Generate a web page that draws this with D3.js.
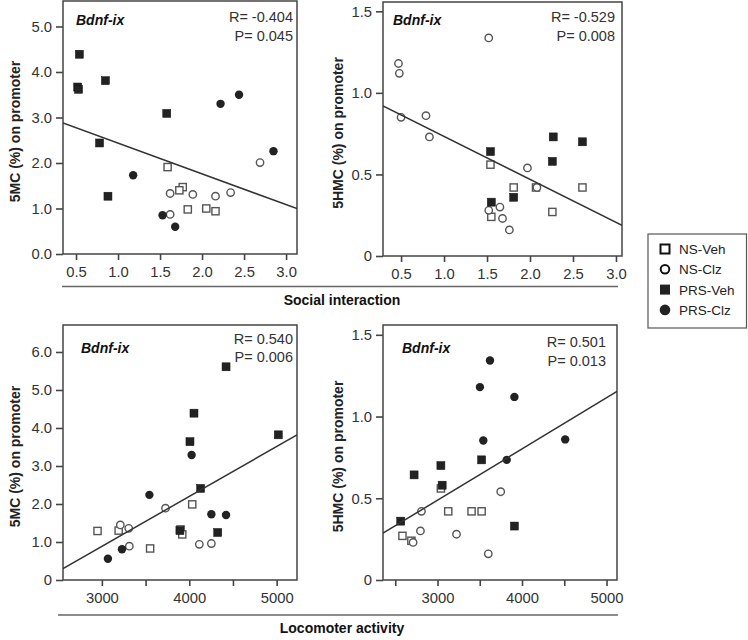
<!DOCTYPE html>
<html><head><meta charset="utf-8">
<script src="https://cdn.jsdelivr.net/npm/d3@7"></script>
<style>
body{margin:0;background:#fff;}
svg{display:block;font-family:"Liberation Sans",Arial,sans-serif;}
</style></head>
<body><svg id="c" width="748" height="640"></svg>
<script>
// ---------- data ----------
const seriesNames = ["NS-Veh","NS-Clz","PRS-Veh","PRS-Clz"];
const geneLabel = "Bdnf-ix";
const yLabels = ["5MC (%) on promoter","5HMC (%) on promoter"];
const xGroupLabels = ["Social interaction","Locomoter activity"];
const statR = ["R= -0.404","R= -0.529","R= 0.540","R= 0.501"];
const statP = ["P= 0.045","P= 0.008","P= 0.006","P= 0.013"];

const socialTicks = [0.5,1.0,1.5,2.0,2.5,3.0];
const ticks5mcSocial = [0,1,2,3,4,5];
const ticks5hmc = [0,0.5,1.0,1.5];
const ticks5mcLoco = [0,1,2,3,4,5,6];
const locoTicks3 = [3000,3500,4000,4500,5000];
const locoTicks4 = [2500,3000,3500,4000,4500,5000];

// Panel 1: social interaction vs 5MC
const p1NSVeh  = [[1.59,1.91],[1.77,1.47],[1.73,1.40],[1.83,0.98],[2.05,1.00],[2.16,0.94]];
const p1NSClz  = [[1.62,1.33],[1.89,1.31],[2.16,1.27],[2.34,1.35],[2.69,2.01],[1.62,0.87]];
const p1PRSVeh = [[0.54,4.39],[0.52,3.67],[0.53,3.62],[0.85,3.81],[1.58,3.09],[0.78,2.44],[0.88,1.27]];
const p1PRSClz = [[2.22,3.30],[2.44,3.50],[2.85,2.26],[1.18,1.73],[1.53,0.85],[1.68,0.60]];
const p1Fit = [3.111,-0.675];

// Panel 2: social interaction vs 5HMC
const p2NSVeh  = [[1.54,0.56],[1.55,0.24],[1.81,0.42],[2.07,0.42],[2.26,0.27],[2.61,0.42]];
const p2NSClz  = [[1.52,1.337],[0.47,1.18],[0.48,1.12],[0.50,0.85],[0.79,0.86],[0.83,0.73],[1.97,0.54],[1.52,0.28],[1.65,0.30],[1.68,0.23],[1.76,0.16],[2.08,0.42]];
const p2PRSVeh = [[1.54,0.64],[1.55,0.33],[1.81,0.36],[2.27,0.73],[2.26,0.58],[2.61,0.70]];
const p2PRSClz = [];
const p2Fit = [0.996,-0.2634];

// Panel 3: locomotor activity vs 5MC
const p3NSVeh  = [[2950,1.29],[3192,1.30],[3552,0.83],[4034,1.99],[3900,1.33],[3920,1.20]];
const p3NSClz  = [[3211,1.45],[3307,1.36],[3314,0.89],[3728,1.89],[4115,0.94],[4253,0.96]];
const p3PRSVeh = [[4421,5.61],[4054,4.39],[4008,3.64],[4130,2.41],[5019,3.82],[4326,1.25],[3893,1.30]];
const p3PRSClz = [[4027,3.29],[3544,2.24],[4253,1.73],[4421,1.71],[3230,0.81],[3069,0.56]];
const p3Fit = [-3.053,0.001313];

// Panel 4: locomotor activity vs 5HMC
const p4NSVeh  = [[3040,0.56],[3127,0.42],[3403,0.42],[3522,0.42],[2585,0.27],[2691,0.24]];
const p4NSClz  = [[2810,0.42],[2798,0.30],[2711,0.23],[3225,0.28],[3748,0.54],[3601,0.16]];
const p4PRSVeh = [[2723,0.643],[3040,0.70],[3055,0.58],[3522,0.735],[2565,0.36],[3910,0.33]];
const p4PRSClz = [[3621,1.343],[3502,1.18],[3910,1.12],[3542,0.853],[4511,0.86],[3819,0.735]];
const p4Fit = [-0.451,0.0003131];

// ---------- drawing ----------
const svg = d3.select("#c");
const INK = "#222", AX = "#444", TXT = "#333";

const panels = [
  {box:[63,1,297,254], xd:[0.345,3.13], yd:[0,5.56], xt:socialTicks, xl:socialTicks, xf:d3.format(".1f"),
   yt:ticks5mcSocial, yf:d3.format(".1f"), series:[p1NSVeh,p1NSClz,p1PRSVeh,p1PRSClz], fit:p1Fit,
   ylab:yLabels[0], ylx:15, gene:[76,25], stat:[293,22,41]},
  {box:[383,2,622,256], xd:[0.29,3.07], yd:[0,1.557], xt:socialTicks, xl:socialTicks, xf:d3.format(".1f"),
   yt:ticks5hmc, yf:d=>d===0?"0":d3.format(".1f")(d), series:[p2NSVeh,p2NSClz,p2PRSVeh,p2PRSClz], fit:p2Fit,
   ylab:yLabels[1], ylx:338, gene:[393,25], stat:[615,22,41]},
  {box:[63,325,297,580], xd:[2555,5233], yd:[0,6.71], xt:locoTicks3, xl:[3000,4000,5000], xf:d3.format("d"),
   yt:ticks5mcLoco, yf:d=>d===0?"0":d3.format(".1f")(d), series:[p3NSVeh,p3NSClz,p3PRSVeh,p3PRSClz], fit:p3Fit,
   ylab:yLabels[0], ylx:15, gene:[81,353], stat:[293,344,362]},
  {box:[383,325,617,580], xd:[2355,5124], yd:[0,1.56], xt:locoTicks4, xl:[3000,4000,5000], xf:d3.format("d"),
   yt:ticks5hmc, yf:d=>d===0?"0":d3.format(".1f")(d), series:[p4NSVeh,p4NSClz,p4PRSVeh,p4PRSClz], fit:p4Fit,
   ylab:yLabels[1], ylx:338, gene:[402,353], stat:[606,347,366]}
];

function marker(g, type, cx, cy) {
  if (type === 0) g.append("rect").attr("x",cx-3.6).attr("y",cy-3.6).attr("width",7.2).attr("height",7.2)
      .attr("fill","#fff").attr("stroke","#555").attr("stroke-width",1.4);
  else if (type === 1) g.append("circle").attr("cx",cx).attr("cy",cy).attr("r",3.7)
      .attr("fill","#fff").attr("stroke","#555").attr("stroke-width",1.4);
  else if (type === 2) g.append("rect").attr("x",cx-4).attr("y",cy-4).attr("width",8).attr("height",8)
      .attr("fill",INK).attr("stroke","#111").attr("stroke-width",0.5);
  else g.append("circle").attr("cx",cx).attr("cy",cy).attr("r",4.2).attr("fill",INK);
}

panels.forEach((p,i) => {
  const [x0,y0,x1,y1] = p.box;
  const xs = d3.scaleLinear().domain(p.xd).range([x0,x1]);
  const ys = d3.scaleLinear().domain(p.yd).range([y1,y0]);
  const g = svg.append("g");

  const ya = d3.axisLeft(ys).tickValues(p.yt).tickFormat(p.yf).tickSize(7).tickPadding(4).tickSizeOuter(0);
  const yg = g.append("g").attr("transform",`translate(${x0},0)`).call(ya);
  const xa = d3.axisBottom(xs).tickValues(p.xt).tickFormat(d => p.xl.includes(d) ? p.xf(d) : "")
      .tickSize(6).tickPadding(6).tickSizeOuter(0);
  const xg = g.append("g").attr("transform",`translate(0,${y1})`).call(xa);
  [yg,xg].forEach(a => {
    a.select(".domain").remove();
    a.selectAll(".tick line").attr("stroke",AX).attr("stroke-width",1.6);
    a.selectAll(".tick text").attr("fill",TXT).style("font-size","14.8px").style("font-family","Liberation Sans, Arial, sans-serif");
  });

  g.append("rect").attr("x",x0).attr("y",y0).attr("width",x1-x0).attr("height",y1-y0)
    .attr("fill","none").attr("stroke",AX).attr("stroke-width",1.5);

  const clipId = "clip"+i;
  svg.append("clipPath").attr("id",clipId).append("rect").attr("x",x0).attr("y",y0).attr("width",x1-x0).attr("height",y1-y0);
  const pg = g.append("g");
  p.series.forEach((s,k) => s.forEach(d => marker(pg, k, xs(d[0]), ys(d[1]))));

  const [b0,b1] = p.fit;
  g.append("line").attr("clip-path",`url(#${clipId})`)
    .attr("x1",xs(p.xd[0])).attr("y1",ys(b0+b1*p.xd[0]))
    .attr("x2",xs(p.xd[1])).attr("y2",ys(b0+b1*p.xd[1]))
    .attr("stroke","#333").attr("stroke-width",1.5);

  g.append("text").attr("x",p.gene[0]).attr("y",p.gene[1]).text(geneLabel)
    .attr("fill","#111").style("font-size","14px").style("font-weight","bold").style("font-style","italic");
  g.append("text").attr("x",p.stat[0]).attr("y",p.stat[1]).attr("text-anchor","end").text(statR[i])
    .attr("fill",TXT).style("font-size","14.5px");
  g.append("text").attr("x",p.stat[0]).attr("y",p.stat[2]).attr("text-anchor","end").text(statP[i])
    .attr("fill",TXT).style("font-size","14.5px");

  g.append("text").attr("transform",`translate(${p.ylx},${(y0+y1)/2+4}) rotate(-90)`)
    .attr("text-anchor","middle").attr("dominant-baseline","central").text(p.ylab)
    .attr("fill","#222").style("font-size","14px").style("font-weight","bold");
});

[[286.5,62,618,305,0],[615,58,618,633,1]].forEach(([y,xa,xb,ty,k]) => {
  svg.append("line").attr("x1",xa).attr("x2",xb).attr("y1",y).attr("y2",y).attr("stroke","#666").attr("stroke-width",1.5);
  svg.append("text").attr("x",342).attr("y",ty).attr("text-anchor","middle").text(xGroupLabels[k])
    .attr("fill","#111").style("font-size","14px").style("font-weight","bold");
});

// legend
const lg = svg.append("g");
lg.append("rect").attr("x",648).attr("y",234).attr("width",98.5).attr("height",94)
  .attr("fill","#fff").attr("stroke","#555").attr("stroke-width",1.2);
seriesNames.forEach((n,k) => {
  const cy = 249 + k*20.3;
  const mg = lg.append("g");
  if (k===0) mg.append("rect").attr("x",660.5).attr("y",cy-4.5).attr("width",9).attr("height",9).attr("fill","#fff").attr("stroke","#111").attr("stroke-width",2);
  else if (k===1) mg.append("circle").attr("cx",665).attr("cy",cy).attr("r",4.3).attr("fill","#fff").attr("stroke","#111").attr("stroke-width",2);
  else if (k===2) mg.append("rect").attr("x",660).attr("y",cy-5).attr("width",10).attr("height",10).attr("fill",INK);
  else mg.append("circle").attr("cx",665).attr("cy",cy).attr("r",5.3).attr("fill",INK);
  lg.append("text").attr("x",679).attr("y",cy+5).text(n).attr("fill","#222").style("font-size","13.5px");
});
</script></body></html>
